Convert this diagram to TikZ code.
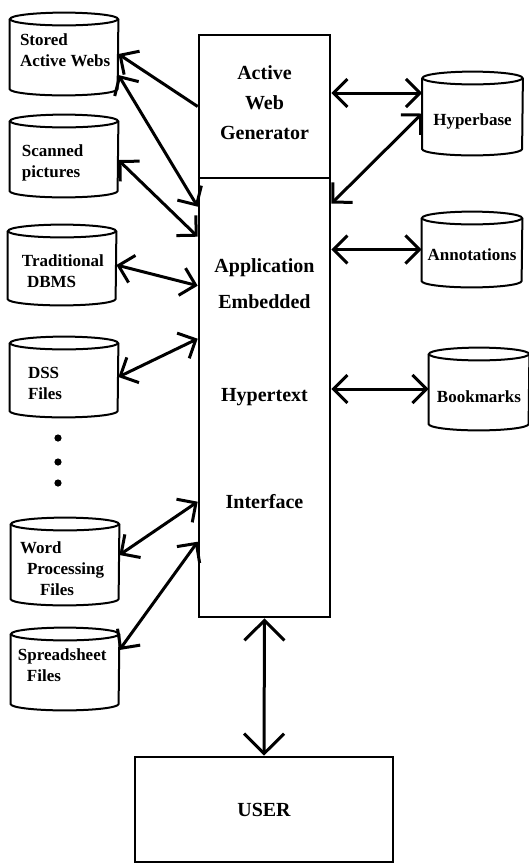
\documentclass[tikz,border=0pt]{standalone}
\usepackage{fontspec}
\setmainfont{Liberation Serif}
\usetikzlibrary{arrows.meta}

\newcommand{\boxfont}{\fontsize{10}{15}\selectfont\bfseries}
\newcommand{\dbfont}{\fontsize{8.5}{10.5}\selectfont\bfseries}

% outline of a database drum round node #1, half width #2
\newcommand{\drawdb}[2]{%
  \draw[dbline] ([yshift=-3.2pt]#1.north) ellipse[x radius=#2, y radius=3.2pt];
  \draw[dbline] ([yshift=-3.2pt]#1.north west) -- ([yshift=3.2pt]#1.south west)
    arc[start angle=180, end angle=360, x radius=#2, y radius=3.2pt]
    -- ([yshift=-3.2pt]#1.north east);
}

\tikzset{
  box/.style={draw, line width=1.3pt, inner sep=0pt, align=center, font=\boxfont},
  dbline/.style={line width=1pt},
  leftdb/.style={inner sep=0pt, minimum width=54pt, minimum height=41pt},
  rightdb/.style={inner sep=0pt, minimum width=50pt, minimum height=41pt},
  lefttext/.style={inner sep=0pt, anchor=west, align=left, font=\dbfont},
  righttext/.style={inner sep=0pt, font=\dbfont},
  twoway/.style={line width=1.5pt,
    {Straight Barb[length=7pt,width=14pt]}-{Straight Barb[length=7pt,width=14pt]}},
  oneway/.style={line width=1.5pt, -{Straight Barb[length=7pt,width=14pt]}},
}

\begin{document}
\begin{tikzpicture}[x=0.5pt, y=-0.5pt]
        \useasboundingbox (0,0) rectangle (529,864);

        % main boxes
        \node[box, minimum width=65.5pt, minimum height=71.5pt] (awg)
          at (264.5,106.5) {Active\\Web\\Generator\\[-11pt]};
        \node[box, minimum width=65.5pt, minimum height=219.5pt] (app)
          at (264.5,397.5) {};
        \node[box, minimum width=129pt, minimum height=52.5pt] (user)
          at (264,809.5) {USER};

        \node[font=\boxfont] (tapp) at (264.5,268) {Application};
        \node[font=\boxfont] (temb) at (264.5,302) {Embedded};
        \node[font=\boxfont] (thyp) at (264.5,397) {Hypertext};
        \node[font=\boxfont] (tint) at (264.5,502) {Interface};

        % stores on the left
        \node[leftdb] (sweb) at (64,54) {};
        \node[leftdb] (scan) at (64,156) {};
        \node[leftdb, minimum height=40pt] (dbms) at (62,265) {};
        \node[leftdb, minimum height=40pt] (dss) at (64,377) {};
        \node[leftdb, minimum height=43.5pt] (word) at (65,561.5) {};
        \node[leftdb] (sheet) at (65,669) {};

        \drawdb{sweb}{27pt}
        \drawdb{scan}{27pt}
        \drawdb{dbms}{27pt}
        \drawdb{dss}{27pt}
        \drawdb{word}{27pt}
        \drawdb{sheet}{27pt}

        \node[lefttext] (swebtext) at ([xshift=5pt,yshift=2pt]sweb.west)
          {Stored\\Active Webs};
        \node[lefttext] (scantext) at ([xshift=6pt,yshift=-3.5pt]scan.west)
          {Scanned\\pictures};
        \node[lefttext] (dbmstext) at ([xshift=7pt,yshift=-3.25pt]dbms.west)
          {Traditional\\\hspace*{2.5pt}DBMS};
        \node[lefttext] (dsstext) at ([xshift=9pt,yshift=-3pt]dss.west)
          {DSS\\Files};
        \node[lefttext] (wordtext) at ([xshift=4.5pt,yshift=-3.5pt]word.west)
          {Word\\\hspace*{3.5pt}Processing\\\hspace*{10pt}Files};
        \node[lefttext] (sheettext) at ([xshift=3.5pt,yshift=2pt]sheet.west)
          {Spreadsheet\\\hspace*{4.5pt}Files};

        \foreach \y in {438,462,483}
          \fill (58,\y) circle[radius=1.8pt];

        % stores on the right
        \node[rightdb, minimum height=41.5pt] (hyp) at (472.5,113.5) {};
        \node[rightdb, minimum height=37.5pt] (ann) at (472,249.5) {};
        \node[rightdb] (bkm) at (479,389) {};

        \drawdb{hyp}{25pt}
        \drawdb{ann}{25pt}
        \drawdb{bkm}{25pt}

        \node[righttext] (hyptext) at ([yshift=-4pt]hyp.center) {Hyperbase};
        \node[righttext] (anntext) at ([yshift=-2.75pt]ann.center) {Annotations};
        \node[righttext] (bkmtext) at ([yshift=-4pt]bkm.center) {Bookmarks};

        % links
        \draw[oneway] (awg.west) -- (sweb.east);
        \draw[twoway] ([yshift=-10.5pt]sweb.east) -- ([yshift=-15pt]app.north west);
        \draw[twoway] ([yshift=-2pt]scan.east) -- ([yshift=-30pt]app.north west);
        \draw[twoway] (dbms.east) -- ([yshift=-54.5pt]app.north west);
        \draw[twoway] (dss.east) -- ([yshift=-81pt]app.north west);
        \draw[twoway] ([yshift=3.25pt]word.east) -- ([yshift=-162.5pt]app.north west);
        \draw[twoway] ([yshift=9.5pt]sheet.east) -- ([yshift=-182.5pt]app.north west);

        \draw[twoway] ([yshift=6.75pt]awg.east) -- ([yshift=6.75pt]awg.east -| hyp.west);
        \draw[twoway] ([yshift=-13.5pt]app.north east) -- (hyp.west);
        \draw[twoway] (app.east |- ann.west) -- (ann.west);
        \draw[twoway] (app.east |- bkm.west) -- (bkm.west);

        \draw[line width=1.5pt,
          {Straight Barb[length=10pt,width=20pt]}-{Straight Barb[length=10pt,width=20pt]}]
          (app.south) -- (user.north);
      \end{tikzpicture}
\end{document}
